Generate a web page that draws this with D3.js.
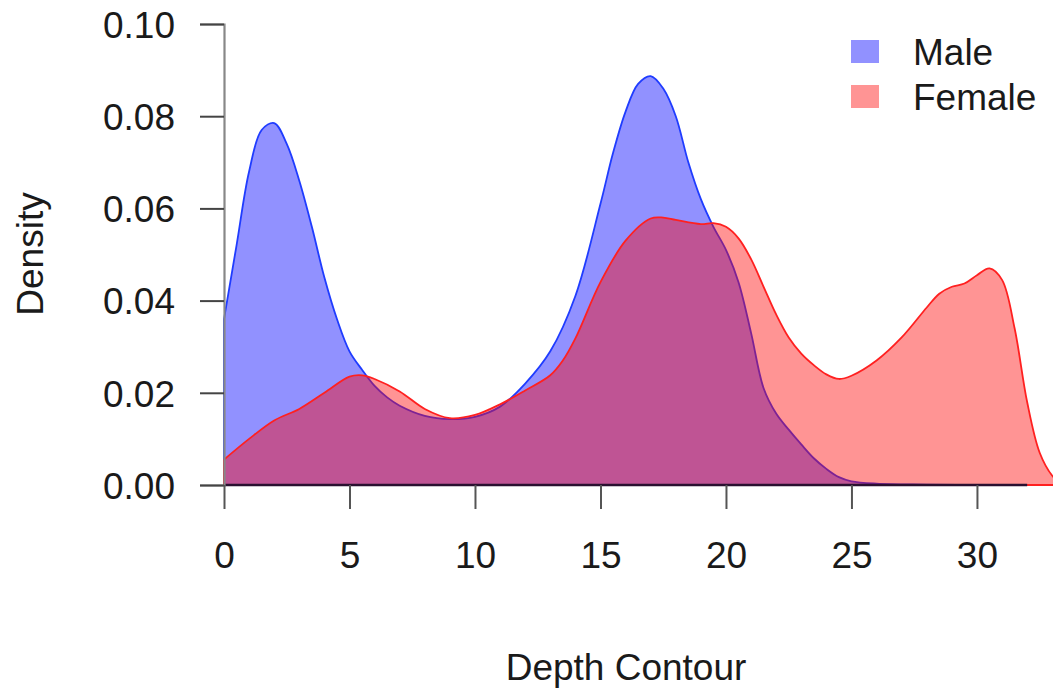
<!DOCTYPE html>
<html>
<head>
<meta charset="utf-8">
<script src="https://cdn.jsdelivr.net/npm/d3@7"></script>
<style>
  body { margin: 0; background: #fff; }
  text { font-family: "Liberation Sans", Arial, sans-serif; fill: #1a1a1a; }
</style>
</head>
<body>
<svg id="chart"></svg>
<script>
// density estimates (depth contour -> density)
const maleX = [0, 0.5, 1, 1.5, 2, 2.5, 3, 3.5, 4, 4.5, 5, 5.5, 6, 6.5, 7, 8, 9, 10, 11, 12, 13, 14, 15, 15.5, 16, 16.5, 17, 17.5, 18, 18.5, 19, 19.5, 20, 20.5, 21, 21.5, 22, 22.5, 23, 23.5, 24, 24.5, 25, 26, 28, 30, 32];
const maleY = [0.036, 0.052, 0.068, 0.077, 0.0785, 0.074, 0.066, 0.056, 0.045, 0.036, 0.029, 0.025, 0.0215, 0.019, 0.0172, 0.015, 0.0143, 0.0148, 0.017, 0.022, 0.029, 0.041, 0.061, 0.072, 0.081, 0.087, 0.0887, 0.086, 0.080, 0.070, 0.062, 0.056, 0.051, 0.044, 0.033, 0.021, 0.0155, 0.012, 0.0088, 0.0058, 0.0035, 0.0017, 0.0008, 0.0003, 0.0001, 0, 0];

const femaleX = [0, 1, 2, 3, 4, 5, 5.5, 6, 7, 8, 9, 10, 11, 12, 13, 13.5, 14, 15, 16, 17, 17.5, 18, 19, 19.5, 20, 20.5, 21, 21.5, 22, 22.5, 23, 23.5, 24, 24.5, 25, 26, 27, 28, 28.5, 29, 29.5, 30, 30.5, 31, 31.5, 32, 32.5, 33, 33.4];
const femaleY = [0.0055, 0.010, 0.014, 0.0165, 0.020, 0.0235, 0.0238, 0.023, 0.0203, 0.0165, 0.0145, 0.0152, 0.0175, 0.0205, 0.0238, 0.027, 0.0318, 0.044, 0.053, 0.0578, 0.058, 0.0575, 0.0566, 0.0568, 0.056, 0.0535, 0.049, 0.043, 0.037, 0.032, 0.0285, 0.026, 0.024, 0.023, 0.0237, 0.027, 0.032, 0.0385, 0.0415, 0.043, 0.0437, 0.0455, 0.047, 0.0445, 0.034, 0.018, 0.007, 0.002, 0];

const xTicks = [0, 5, 10, 15, 20, 25, 30];
const yTicks = [0, 0.02, 0.04, 0.06, 0.08, 0.10];
const legendLabels = ['Male', 'Female'];

const width = 1053, height = 692;

const svg = d3.select('#chart')
  .attr('width', width)
  .attr('height', height);

const x = d3.scaleLinear().domain([0, 33.03]).range([224, 1053]);
const y = d3.scaleLinear().domain([0, 0.10]).range([485, 24]);

const maleData = maleX.map((v, i) => ({x: v, y: maleY[i]}));
const femaleData = femaleX.map((v, i) => ({x: v, y: femaleY[i]}));

const line = d3.line()
  .x(d => x(d.x))
  .y(d => y(Math.max(0, d.y)))
  .curve(d3.curveCatmullRom.alpha(0.5));

const series = [
  {name: 'Male', data: maleData, fill: 'rgba(0,0,255,0.43)', stroke: '#1f3cff'},
  {name: 'Female', data: femaleData, fill: 'rgba(255,0,0,0.42)', stroke: '#ff2020'}
];

series.forEach(s => {
  const first = s.data[0], last = s.data[s.data.length - 1];
  // closed polygon like R's polygon(): straight edges down to 0 at both ends
  const curve = line(s.data);
  svg.append('path')
    .attr('d', `M${x(first.x)},${y(0)}L` + curve.slice(1) + `L${x(last.x)},${y(0)}Z`)
    .attr('fill', s.fill)
    .attr('stroke', s.stroke)
    .attr('stroke-width', 1.8)
    .attr('stroke-linejoin', 'round');
});

// dark baseline under the male density
svg.append('line')
  .attr('x1', x(0)).attr('x2', x(32))
  .attr('y1', y(0)).attr('y2', y(0))
  .attr('stroke', '#2a1030')
  .attr('stroke-width', 2.5);

// y axis
const yAxisG = svg.append('g')
  .attr('transform', `translate(${x(0)},0)`)
  .call(d3.axisLeft(y).tickValues(yTicks).tickFormat(d3.format('.2f')).tickSize(24).tickPadding(25));
yAxisG.select('.domain').attr('stroke', '#888').attr('stroke-width', 2.2);
yAxisG.selectAll('.tick line').attr('stroke', '#444').attr('stroke-width', 2);
yAxisG.selectAll('.tick text')
  .style('font-size', '37px')
  .style('font-family', '"Liberation Sans", Arial, sans-serif')
  .attr('fill', '#1a1a1a')
  .attr('dy', '0.36em');

// x axis (ticks only, R style)
const xAxisG = svg.append('g')
  .attr('transform', `translate(0,${y(0)})`)
  .call(d3.axisBottom(x).tickValues(xTicks).tickSize(24).tickPadding(33));
xAxisG.select('.domain').remove();
xAxisG.selectAll('.tick line').attr('stroke', '#555').attr('stroke-width', 2);
xAxisG.selectAll('.tick text')
  .style('font-size', '37px')
  .style('font-family', '"Liberation Sans", Arial, sans-serif')
  .attr('fill', '#1a1a1a');

// axis titles
svg.append('text')
  .attr('x', 626)
  .attr('y', 680)
  .attr('text-anchor', 'middle')
  .style('font-size', '37px')
  .text('Depth Contour');

svg.append('text')
  .attr('transform', 'rotate(-90)')
  .attr('x', -254)
  .attr('y', 43)
  .attr('text-anchor', 'middle')
  .style('font-size', '37px')
  .text('Density');

// legend
const legend = svg.append('g');
legendLabels.forEach((name, i) => {
  const s = series[i];
  legend.append('rect')
    .attr('x', 851).attr('y', 40 + i * 45)
    .attr('width', 28).attr('height', 23)
    .attr('fill', s.fill);
  legend.append('text')
    .attr('x', 913).attr('y', 65 + i * 45)
    .style('font-size', '37px')
    .text(name);
});
</script>
</body>
</html>
